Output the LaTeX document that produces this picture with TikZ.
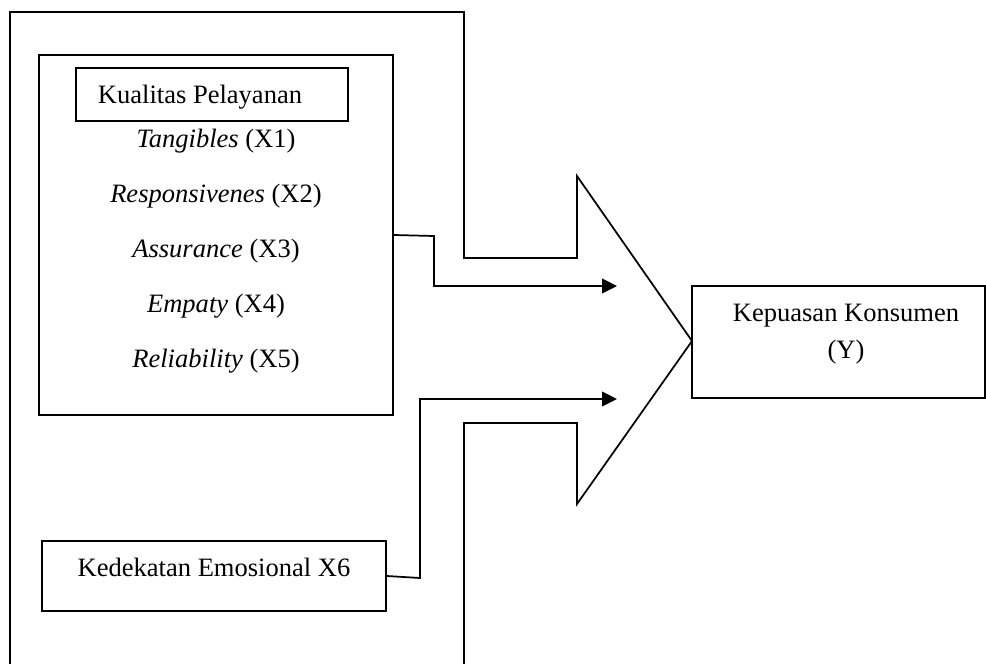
\documentclass[tikz,border=0pt]{standalone}
\usepackage{fontspec}
\setmainfont{Liberation Serif}
\usetikzlibrary{arrows.meta}
\begin{document}
\begin{tikzpicture}[x=0.75pt,y=-0.75pt,
  line/.style={draw=black,line width=1.3pt},
  boxn/.style={draw=black,line width=1.3pt,inner sep=0pt},
  lbl/.style={anchor=base,inner sep=0pt,font=\fontsize{19.9}{24}\selectfont},
  arr/.style={line width=1.3pt,-{Triangle[length=11.25pt,width=11pt]}}]
\useasboundingbox (0,0) rectangle (986,664);
% big outer arrow shape
\draw[line,line join=miter] (10,664) -- (10,12) -- (464,12) -- (464,258) -- (577,258) -- (577,176)
  -- (692,341) -- (577,504) -- (577,423) -- (464,423) -- (464,664);
% boxes
\node[boxn,minimum width=265.5pt,minimum height=270pt] (kp) at (216,235) {};
\node[boxn,minimum width=204pt,minimum height=39.75pt] (kt) at (212,94.5) {};
\node[boxn,minimum width=258pt,minimum height=52.5pt] (ke) at (214,576) {};
\node[boxn,minimum width=219.75pt,minimum height=84pt] (ky) at (838.5,342) {};
% texts
\node[lbl] (tkt) at (200,103) {Kualitas Pelayanan};
\node[lbl] (x1) at (216,147) {\textit{Tangibles} (X1)};
\node[lbl] (x2) at (216,202) {\textit{Responsivenes} (X2)};
\node[lbl] (x3) at (216,257) {\textit{Assurance} (X3)};
\node[lbl] (x4) at (216,312) {\textit{Empaty} (X4)};
\node[lbl] (x5) at (216,367) {\textit{Reliability} (X5)};
\node[lbl] (tke) at (214,576) {Kedekatan Emosional X6};
\node[lbl] (tky1) at (846,321) {Kepuasan Konsumen};
\node[lbl] (tky2) at (846,358) {(Y)};
% connectors
\coordinate (t1) at (617,286);
\coordinate (t2) at (617,399);
\draw[arr] (kp.east) -- (434,236) -- (434,286) -- (t1);
\draw[arr] (ke.east) -- (420,578) -- (420,399) -- (t2);
\end{tikzpicture}
\end{document}
